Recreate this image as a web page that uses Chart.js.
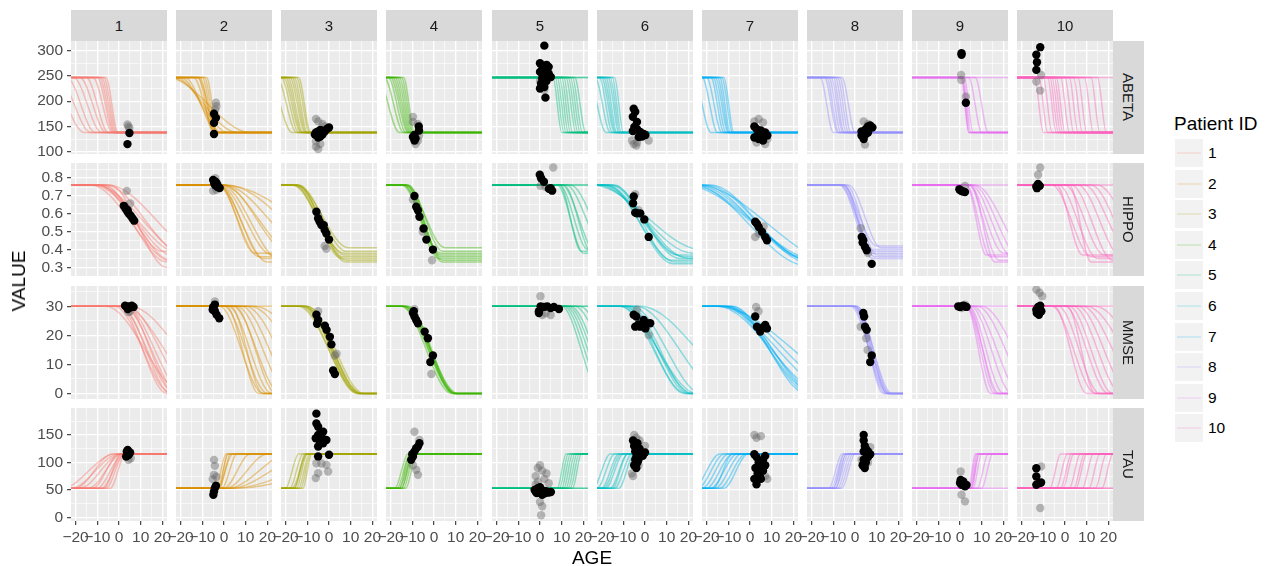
<!DOCTYPE html>
<html>
<head>
<meta charset="utf-8">
<script src="https://cdn.jsdelivr.net/npm/chart.js@4.4.1/dist/chart.umd.min.js"></script>
<style>
  html, body { margin: 0; padding: 0; background: #fff; }
  #plot { position: relative; width: 1269px; height: 566px; overflow: hidden;
          font-family: "Liberation Sans", Arial, sans-serif; }
  #plot canvas { position: absolute; }
  .strip { position: absolute; background: #D9D9D9; color: #1A1A1A; font-size: 15px;
           display: flex; align-items: center; justify-content: center; }
  .strip.side { writing-mode: vertical-rl; }
  .axis-title { position: absolute; color: #000; font-size: 19px; white-space: nowrap; }
  .legend-title { position: absolute; left: 1174px; top: 113px; font-size: 19px; color: #000; }
  .legend-key { position: absolute; left: 1175px; width: 28px; height: 28px; background: #F2F2F2; }
  .legend-key span { position: absolute; left: 2px; right: 2px; top: 13px; height: 2px; }
  .legend-label { position: absolute; left: 1208px; font-size: 15.5px; color: #000; line-height: 28px; }
</style>
</head>
<body>
<div id="plot"></div>
<script>
// patients / facets
const PATIENT_IDS = ['1', '2', '3', '4', '5', '6', '7', '8', '9', '10'];
const PATIENT_COLORS = ['#F8766D', '#D89000', '#A3A500', '#39B600', '#00BF7D',
                        '#00BFC4', '#00B0F6', '#9590FF', '#E76BF3', '#FF62BC'];
const MEASURES = ['ABETA', 'HIPPO', 'MMSE', 'TAU'];

// axes
const AGE_RANGE = [-22.1, 22.1];
const AGE_TICK_STEP = 10;
const VALUE_RANGES = [[95.4, 319.2], [0.252, 0.885], [-1.9, 37], [-6.8, 199.3]];
const VALUE_TICK_STEPS = [50, 0.1, 10, 50];

// plateau levels of the fitted curves (start level, end level)
const CURVE_FROM = [247, 0.762, 30, 53];
const CURVE_TO = [138, 0.37, 0, 115.5];

// fitted curves per patient: [age where change starts, age where it ends, (end level)]
const ABETA_CURVES = [
  [[-32,-16],[-28,-13],[-24,-11],[-21,-8],[-18,-6],[-15,-5],[-12,-3],[-10,-2.5],[-9,-2],[-8,-1.5],[-7,-1],[-6,-0.5]],
  [[-26,12],[-24,6],[-22,2],[-20,-1],[-18,-3],[-14,-4],[-12,-5],[-11,-4.5],[-10,-4],[-9,-3.5],[-8,-3],[-12,-3]],
  [[-28,-17],[-24,-15],[-22,-14],[-21,-13],[-20,-12.5],[-19,-12],[-18,-11],[-17,-10.5],[-16,-10],[-15,-9],[-14,-8.5]],
  [[-26,-16],[-23,-14],[-21,-13],[-20,-12],[-19,-11.5],[-18,-11],[-17,-10.5],[-16,-10],[-15,-9.5],[-14,-9]],
  [[6,10],[7,11],[8,12],[9,13],[10,14],[11,15],[12,16.5],[13,17.5],[14,18.5],[15,19.5],[16,21],[24,30],[26,32]],
  [[-26,-18],[-23,-16],[-21,-15],[-20,-14],[-19,-13.5],[-18,-13],[-17,-12],[-16,-11.5],[-15,-11],[-14,-10]],
  [[-26,-18],[-22,-15],[-20,-13],[-18,-12],[-17,-11],[-16,-10],[-15,-9.5],[-14,-9],[-13,-8],[-12,-7.5]],
  [[-16,-10],[-14,-8],[-13,-7.5],[-12,-6.5],[-11,-5.5],[-10,-5],[-9,-4],[-8,-3],[-7,-2],[-6,0]],
  [[0.5,4],[1,4.5],[1.5,5],[1,4],[2,6],[4,10],[7,13],[24,30]],
  [[-14,-10],[-12,-8],[-10,-6],[-8,-4],[-7,-3],[-6,-2],[-5,-1],[-4,0],[-2,2],[0,4],[2,6],[4,8],[6,10],[9,13],[12,16],[15,19],[24,30]]
];
const HIPPO_CURVES = [
  [[-10,26,0.36],[-8,24,0.34],[-12,28,0.38],[-9,22,0.33],[-6,30,0.37],[-11,34,0.35],[-7,20,0.39],[-13,25,0.33],[-5,40,0.36],[-4,22,0.3]],
  [[-3,16,0.36],[-2,18,0.35],[-2,22,0.37],[-1,26,0.34],[0,30,0.38],[-1,34,0.36],[0,42,0.37],[1,55,0.36],[-3,20,0.33],[-2,14,0.38],[0,70,0.36]],
  [[-15,7,0.37],[-16,6,0.35],[-14,8,0.39],[-15,9,0.41],[-16,8,0.33],[-14,6,0.36],[-17,7,0.38],[-15,8,0.34]],
  [[-13,3,0.37],[-14,2,0.35],[-12,4,0.39],[-13,5,0.41],[-14,4,0.33],[-12,3,0.36],[-15,3,0.38],[-13,4,0.34]],
  [[8,20,0.38],[9,22,0.4],[10,26,0.38],[12,30,0.4],[14,34,0.38],[9,19,0.39],[11,24,0.38],[24,40,0.38],[26,44,0.38]],
  [[-18,14,0.33],[-16,16,0.35],[-20,18,0.36],[-14,12,0.34],[-22,22,0.38],[-17,13,0.32],[-19,20,0.35],[-15,15,0.37],[-24,26,0.4]],
  [[-25,30,0.33],[-28,35,0.3],[-22,25,0.35],[-20,28,0.32],[-30,32,0.34],[-18,24,0.36],[-24,40,0.33],[-26,26,0.31]],
  [[-6,8,0.38],[-5,9,0.36],[-7,7,0.4],[-6,10,0.42],[-4,10,0.37],[-5,8,0.35],[-7,9,0.39],[-3,12,0.41]],
  [[3,14,0.36],[4,18,0.34],[4,20,0.38],[5,24,0.36],[6,28,0.35],[3,12,0.37],[5,16,0.33],[7,32,0.36],[30,40,0.36]],
  [[-6,12,0.36],[-3,15,0.35],[0,18,0.37],[3,22,0.34],[6,26,0.36],[9,30,0.38],[12,34,0.35],[-4,8,0.37],[2,12,0.33],[15,40,0.36],[26,40,0.36]]
];
const MMSE_CURVES = [
  [[0,26],[2,28],[3,30],[1,24],[4,34],[2,40],[5,50],[0,22],[3,26],[-2,24],[-6,30]],
  [[0,20],[2,22],[-2,18],[4,26],[6,30],[8,34],[10,40],[12,50],[5,24],[3,18],[14,60],[1,16],[25,40]],
  [[-12,14],[-11,15],[-10,14],[-13,13],[-11,13],[-12,15],[-10,16],[-14,14]],
  [[-14,9],[-13,10],[-15,8],[-12,10],[-13.5,9.5],[-14,11],[-12,9],[-15,10]],
  [[10,28],[11,30],[12,32],[14,36],[16,40],[13,34],[18,44],[25,40],[26,44]],
  [[-10,22],[-8,20],[-12,24],[-6,26],[-4,36],[-9,18],[-7,21],[-11,19],[-2,50]],
  [[-15,35],[-12,30],[-10,28],[-14,40],[-8,26],[-11,32],[-13,45],[-9,30],[-15,55]],
  [[-1,14],[0,15],[1,16],[-1,16],[0,13],[1,15],[-2,15],[0,17]],
  [[3,16],[3,18],[4,20],[5,24],[6,28],[8,34],[3,14],[4,17],[10,40],[30,40]],
  [[-6,14],[-3,16],[0,20],[2,22],[4,26],[6,30],[8,36],[10,44],[-5,10],[14,50],[1,14],[26,40]]
];
const TAU_CURVES = [
  [[-22,0],[-18,1],[-14,1.5],[-10,2],[-8,2.5],[-6,2.5],[-4,3],[-26,-2],[-20,-3],[-12,0],[-7,1]],
  [[-4,1],[-3,2],[-2,3],[-1,6],[0,12],[1,20],[2,30],[3,40],[4,60],[-3,4],[-2,1.5],[5,80]],
  [[-18,-12],[-16,-11],[-15,-10],[-14,-9],[-13,-8.5],[-20,-14],[-17,-10],[-12,-8],[-16,-10.5]],
  [[-17,-11],[-16,-10],[-15,-9.5],[-14,-9],[-18,-12],[-13,-8],[-16,-11],[-15,-10]],
  [[8,12],[9,13],[10,14],[11,15],[12,16],[13,17],[14,18],[15,19],[24,30],[26,32]],
  [[-24,-16],[-22,-14],[-20,-12],[-18,-10],[-16,-8],[-14,-6],[-12,-5],[-19,-11],[-15,-8]],
  [[-24,-12],[-22,-10],[-20,-8],[-18,-6],[-16,-4],[-14,-2],[-12,-1],[-26,-14],[-17,-8]],
  [[-12,-6],[-11,-5],[-10,-4],[-9,-3],[-8,-2],[-7,-1],[-6,0],[-10,-5],[-9,-4]],
  [[4.5,7.5],[5,8],[5.5,8.5],[4,7],[6,10],[8,13],[10,15],[5,9],[24,30]],
  [[-7,-2],[-4,1],[-1,4],[2,7],[5,10],[8,13],[11,16],[14,19],[17,22],[24,30],[26,32],[-2,3],[4,9]]
];

// observations: [age, value]
const ABETA_OBS = [
  [[4.8,137],[3.9,115]],
  [[-4.6,175],[-3.7,167],[-4.6,157],[-4.6,135]],
  [[-6,138],[-5.5,132],[-5,140],[-4.5,135],[-4,143],[-3.5,137],[-3,134],[-2,140],[-1,145],[0,148],[-5,128],[-4,130],[-6.5,134],[-3,141]],
  [[-9.7,129],[-9,122],[-7,150],[-6.9,142],[-9,133],[-8.5,126]],
  [[2,310],[0,275],[1,270],[2,265],[3,262],[0,258],[1,255],[2,250],[4,255],[5,248],[1,245],[3,240],[0.5,235],[2,228],[0,225],[2.5,207],[1,262],[3,272],[4,268]],
  [[-5.2,185],[-4.5,179],[-5.6,169],[-3.7,159],[-4.9,149],[-3.7,145],[-2.2,139],[-0.6,135],[-2.9,129],[-1.4,130],[0.2,133],[-5.6,141]],
  [[2,150],[3,145],[4,140],[5,135],[6,130],[7,138],[3,130],[4,125],[6,122],[8,132],[5,142],[2,128]],
  [[3,140],[4,130],[5,135],[6,150],[7,152],[8,148],[4,125],[3,132],[5,145],[6,138]],
  [[0.7,295],[0.7,292],[2.7,197]],
  [[-11.4,307],[-13.2,292],[-12.9,277],[-13.2,262]]
];
const ABETA_OTHER = [
  [[3.9,154],[4.8,147],[4.3,150]],
  [[-3.7,197],[-4,183],[-3.5,190]],
  [[-6,165],[-5,160],[-6,110],[-5,105],[-4,115],[-3,155],[-2,150],[-6,120]],
  [[-9.7,169],[-9.7,159],[-7.4,155],[-7.4,122],[-6.9,132],[-8.5,115]],
  [[1,230],[2,222],[0,240]],
  [[-5.2,115],[-3.7,118],[1.7,122],[-6,122],[-4,112]],
  [[2,160],[4,165],[6,158],[3,118],[7,115],[8,125]],
  [[4.6,114],[4,160],[6,155]],
  [[0.5,252],[0.6,242],[2.7,209]],
  [[-13.2,239],[-11.4,221],[-11,252]]
];
const HIPPO_OBS = [
  [[2.2,0.645],[3,0.63],[3.8,0.615],[4.6,0.6],[5.4,0.59],[6.2,0.575],[7,0.562],[4,0.62]],
  [[-5,0.79],[-4.5,0.77],[-4,0.76],[-3.5,0.775],[-3,0.75],[-2,0.745],[-4,0.78],[-3,0.76]],
  [[-5.8,0.612],[-5,0.574],[-4.3,0.556],[-3.5,0.537],[-2,0.509],[-1.2,0.49],[0,0.456],[-2.4,0.537]],
  [[-9,0.7],[-8.2,0.64],[-7.4,0.62],[-6.7,0.584],[-4.8,0.518],[-3.5,0.456],[-0.5,0.4]],
  [[-0.1,0.819],[0.5,0.8],[1.8,0.78],[4.9,0.744],[5.6,0.73],[4.1,0.74]],
  [[-5.2,0.697],[-5.5,0.659],[-3.7,0.603],[-2.2,0.603],[-0.3,0.569],[1.7,0.471],[-4.5,0.607]],
  [[2.4,0.556],[4,0.527],[5.5,0.5],[7,0.47],[7.8,0.452],[3.2,0.545]],
  [[3.1,0.471],[3.8,0.452],[4.6,0.415],[5.4,0.396],[7.7,0.32],[3.5,0.44]],
  [[0,0.734],[0.7,0.728],[1.5,0.725],[-0.3,0.738],[2.3,0.722]],
  [[-12.4,0.768],[-13.2,0.753],[-11.6,0.757],[-12.9,0.744]]
];
const HIPPO_OTHER = [
  [[3.6,0.729],[5.1,0.659]],
  [[-4,0.8],[-5,0.73],[-3.5,0.735]],
  [[-1.2,0.405],[-2,0.42],[-5,0.59]],
  [[-9.7,0.68],[-5.2,0.5],[-0.9,0.34]],
  [[6.1,0.86],[0.2,0.757],[2.5,0.752]],
  [[-4.5,0.71],[-3,0.62]],
  [[2.4,0.47],[4,0.49],[6.3,0.53]],
  [[2.6,0.52],[6,0.38]],
  [[2.3,0.757]],
  [[-11.4,0.86],[-12.4,0.819]]
];
const MMSE_OBS = [
  [[2.8,30.2],[3.6,29.8],[4.4,30],[5.1,29.6],[5.9,30.2],[6.7,29.8],[4,29.1]],
  [[-5,29.8],[-4.2,28.3],[-3.4,27.1],[-2.2,25.9],[-4.2,30.6],[-5.2,28.8]],
  [[-5.8,27.1],[-5,25.3],[-5.5,24],[-1.9,23.3],[-1.1,21.9],[0.4,19.5],[1.1,16.9],[1.9,7.9],[2.7,6.7]],
  [[-9.7,27.7],[-9,26.5],[-8.2,25.3],[-7.4,24.2],[-4.3,21.3],[-2.8,19],[-0.5,13.1],[-1.7,10.8],[-9.3,28.3]],
  [[-0.5,28.3],[0.3,30],[1.8,29.8],[3.3,30],[4.9,29.4],[6.4,29.8],[8.7,29.1],[-0.5,27.7]],
  [[-5.2,27.1],[-4,26.5],[-4.5,23],[-2.2,23],[-0.6,25.3],[0.9,24.2],[2.4,24.2],[0.2,22.4],[-3,23.8]],
  [[2.4,26.5],[3.2,23],[4.7,21.3],[7,23.6],[7.8,22.4],[6.2,22.8]],
  [[3.8,27.7],[4.2,26.5],[4.6,23],[5.4,21.9],[7.7,13.1],[7,10.8]],
  [[-0.8,30],[0.7,30],[2.3,30],[3,29.8],[0,29.8],[1.5,30.2]],
  [[-12.4,29.8],[-13.2,28.8],[-12,27.1],[-10.9,28.3],[-11.4,30.2],[-13,27.7]]
];
const MMSE_OTHER = [
  [[5.1,28.3],[4.4,28]],
  [[-4.2,31.7]],
  [[-5,28.3],[2.7,13.1],[3.5,13.7]],
  [[-1.2,6.7],[-9,29]],
  [[0.2,33.5],[1,27],[4.9,27],[2.6,27.6]],
  [[-3.7,28.8],[1.7,20.1]],
  [[2.8,29.8],[3.9,28.3]],
  [[2.6,23],[5.8,15],[5.2,19]],
  [[0.7,29.4],[2.3,30.6]],
  [[-13.2,35.8],[-11.7,34.7],[-10.5,33.5]]
];
const TAU_OBS = [
  [[3.6,119.8],[4.4,113.7],[3.3,110.7],[4.8,116.8],[4,122.8],[5.1,118]],
  [[-4.6,47.2],[-4.9,41.1],[-3.7,57.5],[-4.2,53.2]],
  [[-5.8,189],[-5.8,171],[-5,165],[-2.7,156],[-5,150],[-6.1,144],[-4.3,141],[-2.7,135],[-5,129],[-1.2,141],[-5,111],[0,114],[-4,138],[-3.5,148]],
  [[-10.5,104.7],[-9.7,110.7],[-9,119.8],[-7.4,128.9],[-6.7,134.9],[-8.2,126],[-10,115]],
  [[-2.5,50],[-2,47],[-1.5,44],[-1,48],[0,45],[0.5,50],[1,46],[1.5,43],[2,48],[2.5,44],[3,47],[4,45],[5,46],[-1,53],[0,55],[1,41]],
  [[-5.5,140],[-5,130],[-4.5,120],[-4,110],[-3.5,100],[-5,95],[-4,90],[-3,105],[-2,115],[-1,112],[0,118],[-2.5,125],[-3.5,135],[-4.5,105]],
  [[2,115],[3,110],[4,100],[5,95],[6,105],[7,112],[2.5,90],[3.5,80],[4.5,75],[2,70],[3,60],[6,85],[7,95],[5,70],[4,85]],
  [[4,150],[4,140],[4.5,130],[5,125],[4,120],[5.5,115],[6,110],[4,105],[5,100],[3.5,95],[4.5,90],[6,120],[7,115]],
  [[0,62.3],[0.7,59.3],[2.3,56.3],[3,59],[1.5,65.3],[0.3,68]],
  [[-13.2,89.5],[-13.2,74.4],[-11.7,62.3],[-13.2,59.3],[-11,63.5]]
];
const TAU_OTHER = [
  [[5.4,107.7],[4.4,104.7]],
  [[-4.6,104.7],[-4.2,93.8],[-4.6,77.4],[-5.2,69.6],[-3.5,74]],
  [[-5.8,98.6],[-5,80.5],[-6.1,71.4],[-0.4,83.5],[-1.2,95.6],[-3.5,98]],
  [[-9,156.1],[-6.7,141],[-7.4,77.4],[-8.2,86.5],[-9.7,95]],
  [[-1,90],[0,95],[1,85],[3,80],[-2,75],[2,70],[-1,65],[0,28],[1,20],[0.5,3.6],[4,62],[-2,60]],
  [[-5,150],[-4,145],[-2.5,140],[-6,80],[-3,95],[0,130],[-5.5,75]],
  [[2,150],[3,145],[5,148],[7,75],[8,70]],
  [[7,128],[6,100],[3,105]],
  [[0.3,83.5],[0.7,41.1],[2.3,29]],
  [[-11,92.6],[-11.4,16.9]]
];

const CURVES = [ABETA_CURVES, HIPPO_CURVES, MMSE_CURVES, TAU_CURVES];
const OBS = [ABETA_OBS, HIPPO_OBS, MMSE_OBS, TAU_OBS];
const OTHER = [ABETA_OTHER, HIPPO_OTHER, MMSE_OTHER, TAU_OTHER];

// layout (pixels)
const PANEL_X0 = 71, PANEL_DX = 105.15, PANEL_W = 96, PANEL_H = 113;
const PANEL_Y = [41, 163, 286, 408];
const PAD_X = 14, PAD_Y = 8, Y_AXIS_W = 40, X_AXIS_H = 24;
const FONT = '"Liberation Sans", Arial, sans-serif';

const plot = document.getElementById('plot');

function rgba(hex, a) {
  const n = parseInt(hex.slice(1), 16);
  return 'rgba(' + (n >> 16 & 255) + ',' + (n >> 8 & 255) + ',' + (n & 255) + ',' + a + ')';
}
const isMajor = (v, step) => Math.abs(v / step - Math.round(v / step)) < 1e-6;

function curvePoints(c, m) {
  const from = CURVE_FROM[m];
  const to = c.length > 2 ? c[2] : CURVE_TO[m];
  return [{x: -60, y: from}, {x: c[0], y: from}, {x: c[1], y: to}, {x: 60, y: to}];
}

function gridFor(step, withTicks) {
  return {
    color: '#FFFFFF',
    lineWidth: ctx => (ctx.tick && isMajor(ctx.tick.value, step)) ? 1.35 : 0.6,
    drawTicks: withTicks,
    tickLength: 4,
    tickWidth: 1.1,
    tickColor: ctx => (ctx.tick && isMajor(ctx.tick.value, step)) ? '#333333' : 'rgba(0,0,0,0)'
  };
}

const panelBackground = {
  id: 'panelBackground',
  beforeDraw(chart) {
    const a = chart.chartArea, ctx = chart.ctx;
    ctx.save();
    ctx.fillStyle = '#EBEBEB';
    ctx.fillRect(a.left, a.top, a.right - a.left, a.bottom - a.top);
    ctx.restore();
  }
};

function makePanel(m, p) {
  const left = Math.round(PANEL_X0 + p * PANEL_DX);
  const top = PANEL_Y[m];
  const firstCol = p === 0;
  const lastRow = m === MEASURES.length - 1;
  const yw = firstCol ? Y_AXIS_W : 0;
  const xh = lastRow ? X_AXIS_H : 0;

  const canvas = document.createElement('canvas');
  canvas.width = PANEL_W + 2 * PAD_X + yw;
  canvas.height = PANEL_H + 2 * PAD_Y + xh;
  canvas.style.left = (left - PAD_X - yw) + 'px';
  canvas.style.top = (top - PAD_Y) + 'px';
  plot.appendChild(canvas);

  const color = PATIENT_COLORS[p];
  const datasets = [
    { data: OBS[m][p].map(d => ({x: d[0], y: d[1]})), pointRadius: 4.2,
      backgroundColor: '#000000', borderColor: '#000000', borderWidth: 0, order: 0 },
    { data: OTHER[m][p].map(d => ({x: d[0], y: d[1]})), pointRadius: 4.2,
      backgroundColor: 'rgba(105,105,105,0.45)', borderColor: 'rgba(0,0,0,0)', borderWidth: 0, order: 1 }
  ];
  CURVES[m][p].forEach(c => datasets.push({
    data: curvePoints(c, m), showLine: true, pointRadius: 0,
    borderColor: rgba(color, 0.42), borderWidth: 1.5,
    cubicInterpolationMode: 'monotone', order: 2
  }));

  const vStep = VALUE_TICK_STEPS[m];
  new Chart(canvas, {
    type: 'scatter',
    data: { datasets },
    options: {
      responsive: false,
      animation: false,
      devicePixelRatio: 1,
      events: [],
      layout: { padding: { left: PAD_X, right: PAD_X, top: PAD_Y, bottom: PAD_Y } },
      elements: { line: { capBezierPoints: false } },
      plugins: { legend: { display: false }, tooltip: { enabled: false } },
      scales: {
        x: {
          type: 'linear', min: AGE_RANGE[0], max: AGE_RANGE[1],
          border: { display: false },
          grid: gridFor(AGE_TICK_STEP, lastRow),
          ticks: {
            display: lastRow, stepSize: AGE_TICK_STEP / 2, includeBounds: false,
            autoSkip: false, maxRotation: 0, minRotation: 0, padding: 3,
            color: '#4D4D4D', font: { family: FONT, size: 15.5 },
            callback: v => isMajor(v, AGE_TICK_STEP) ? (v < 0 ? '\u2212' + Math.abs(v) : String(v)) : ''
          },
          afterFit: s => { s.height = xh; s.paddingLeft = 0; s.paddingRight = 0; }
        },
        y: {
          type: 'linear', min: VALUE_RANGES[m][0], max: VALUE_RANGES[m][1],
          border: { display: false },
          grid: gridFor(vStep, firstCol),
          ticks: {
            display: firstCol, stepSize: vStep / 2, includeBounds: false,
            autoSkip: false, padding: 4,
            color: '#4D4D4D', font: { family: FONT, size: 15.5 },
            callback: v => isMajor(v, vStep) ? (vStep < 1 ? v.toFixed(1) : String(v)) : ''
          },
          afterFit: s => { s.width = yw; s.paddingTop = 0; s.paddingBottom = 0; }
        }
      }
    },
    plugins: [panelBackground]
  });
}

function addDiv(cls, text, css) {
  const d = document.createElement('div');
  d.className = cls;
  d.textContent = text;
  Object.assign(d.style, css);
  plot.appendChild(d);
  return d;
}

// panels
MEASURES.forEach((_, m) => PATIENT_IDS.forEach((__, p) => makePanel(m, p)));

// column strips
PATIENT_IDS.forEach((id, p) => {
  const left = Math.round(PANEL_X0 + p * PANEL_DX);
  addDiv('strip', id, { left: left + 'px', top: '10px', width: PANEL_W + 'px', height: '31px' });
});
// row strips
const stripLeft = Math.round(PANEL_X0 + 9 * PANEL_DX) + PANEL_W;
MEASURES.forEach((name, m) => {
  addDiv('strip side', name, { left: stripLeft + 'px', top: PANEL_Y[m] + 'px', width: '31px', height: PANEL_H + 'px' });
});

// axis titles
addDiv('axis-title', 'AGE', { left: '592px', top: '558px', transform: 'translate(-50%,-50%)' });
addDiv('axis-title', 'VALUE', { left: '19px', top: '281px', transform: 'translate(-50%,-50%) rotate(-90deg)' });

// legend
addDiv('legend-title', 'Patient ID', {});
PATIENT_IDS.forEach((id, p) => {
  const top = Math.round(139 + p * 30.6);
  const key = addDiv('legend-key', '', { top: top + 'px' });
  const line = document.createElement('span');
  line.style.background = rgba(PATIENT_COLORS[p], 0.15);
  key.appendChild(line);
  addDiv('legend-label', id, { top: top + 'px' });
});
</script>
</body>
</html>
